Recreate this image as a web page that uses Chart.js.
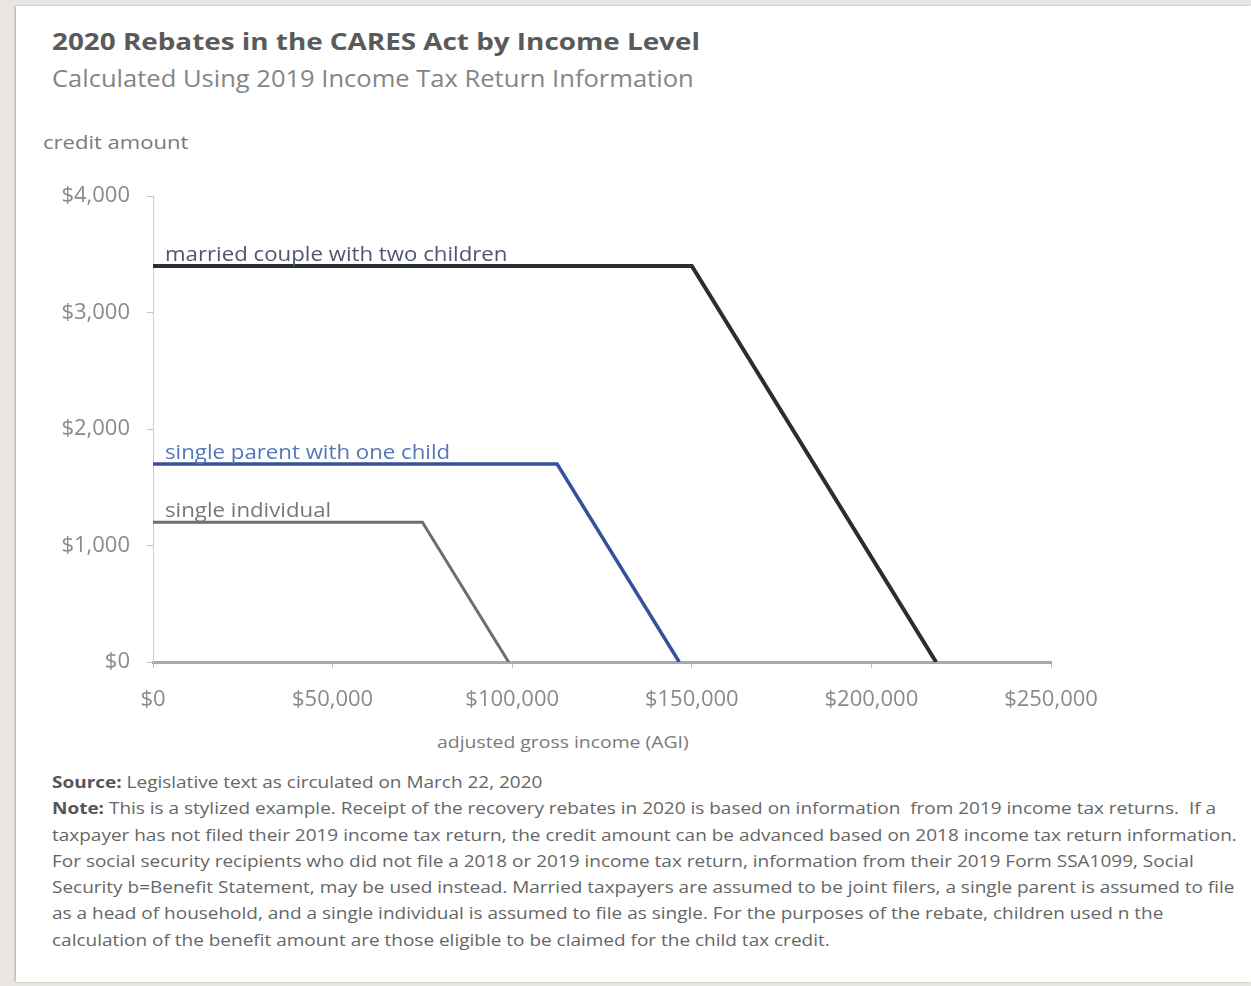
<!DOCTYPE html>
<html>
<head>
<meta charset="utf-8">
<script src="https://cdn.jsdelivr.net/npm/chart.js@4.4.1/dist/chart.umd.min.js"></script>
<style>
  html,body{margin:0;padding:0;}
  body{width:1251px;height:986px;background:#e9e6e1;overflow:hidden;font-family:"Open Sans",Lato,sans-serif;}
  .panel{position:absolute;left:16px;top:6px;width:1235px;height:976px;background:#fff;box-shadow:-1px 0 2px rgba(0,0,0,.25);}
  .txt{position:absolute;white-space:nowrap;transform-origin:0 50%;}
  #title{left:52px;top:24px;font-size:24px;font-weight:700;color:#5a5a5a;transform:scaleX(1.16);}
  #subtitle{left:52px;top:62px;font-size:23px;color:#858585;transform:scaleX(1.11);}
  #ylab{left:43px;top:129px;font-size:19px;color:#7a7a7a;transform:scaleX(1.16);}
  #xlab{left:437px;top:730px;font-size:17px;color:#7a7a7a;transform:scaleX(1.14);}
  #chartWrap{position:absolute;left:0;top:166px;width:1120px;height:560px;}
  #notes{position:absolute;left:52px;top:769px;font-size:16.5px;line-height:26.3px;color:#666;transform:scaleX(1.15);transform-origin:0 0;}
  #notes div{white-space:nowrap;}
  #notes b{color:#555;}
</style>
</head>
<body>
<div class="panel"></div>
<div class="txt" id="title">2020 Rebates in the CARES Act by Income Level</div>
<div class="txt" id="subtitle">Calculated Using 2019 Income Tax Return Information</div>
<div class="txt" id="ylab">credit amount</div>
<div id="chartWrap"><canvas id="rebateChart" width="1120" height="560"></canvas></div>
<div class="txt" id="xlab">adjusted gross income (AGI)</div>
<div id="notes">
  <div><b>Source:</b> Legislative text as circulated on March 22, 2020</div>
  <div><b>Note:</b> This is a stylized example. Receipt of the recovery rebates in 2020 is based on information&nbsp; from 2019 income tax returns.&nbsp; If a</div>
  <div>taxpayer has not filed their 2019 income tax return, the credit amount can be advanced based on 2018 income tax return information.</div>
  <div>For social security recipients who did not file a 2018 or 2019 income tax return, information from their 2019 Form SSA1099, Social</div>
  <div>Security b=Benefit Statement, may be used instead. Married taxpayers are assumed to be joint filers, a single parent is assumed to file</div>
  <div>as a head of household, and a single individual is assumed to file as single. For the purposes of the rebate, children used n the</div>
  <div>calculation of the benefit amount are those eligible to be claimed for the child tax credit.</div>
</div>

<script>
// ===== Datos =====
const seriesNames = ['married couple with two children', 'single parent with one child', 'single individual'];

const incomeMarried = [0, 150000, 218000];
const creditMarried = [3400, 3400, 0];

const incomeParent = [0, 112500, 146500];
const creditParent = [1700, 1700, 0];

const incomeSingle = [0, 75000, 99000];
const creditSingle = [1200, 1200, 0];

const xTicks = [0, 50000, 100000, 150000, 200000, 250000];
const yTicks = [0, 1000, 2000, 3000, 4000];

// ===== Helpers =====
const toPoints = (xs, ys) => xs.map((x, i) => ({x, y: ys[i]}));
const money = v => '$' + Number(v).toLocaleString('en-US');

const FONT = '"Open Sans", Lato, sans-serif';

const datasets = [
  {label: seriesNames[0], data: toPoints(incomeMarried, creditMarried), borderColor:'#2a2d33', borderWidth:4, labelColor:'#4f5670'},
  {label: seriesNames[1], data: toPoints(incomeParent, creditParent), borderColor:'#34529a', borderWidth:3.5, labelColor:'#5577b8'},
  {label: seriesNames[2], data: toPoints(incomeSingle, creditSingle), borderColor:'#6e6e6e', borderWidth:3, labelColor:'#777777'}
].map(d => Object.assign(d, {pointRadius:0, fill:false, tension:0, borderJoinStyle:'miter'}));

// etiquetas encima de cada línea (texto algo estirado, como en la foto)
const seriesLabels = {
  id:'seriesLabels',
  afterDatasetsDraw(chart){
    const {ctx, scales:{x, y}} = chart;
    chart.data.datasets.forEach(d => {
      ctx.save();
      ctx.translate(x.getPixelForValue(0) + 12, y.getPixelForValue(d.data[0].y) - 1);
      ctx.scale(1.14, 1);
      ctx.font = '19.5px ' + FONT;
      ctx.textAlign = 'left';
      ctx.textBaseline = 'bottom';
      ctx.fillStyle = d.labelColor;
      ctx.fillText(d.label, 0, 0);
      ctx.restore();
    });
  }
};

new Chart(document.getElementById('rebateChart'), {
  type:'line',
  data:{datasets},
  options:{
    responsive:false,
    animation:false,
    layout:{padding:{top:11, right:69, left:0, bottom:0}},
    plugins:{legend:{display:false}, tooltip:{enabled:false}},
    scales:{
      x:{
        type:'linear', min:0, max:250000,
        afterBuildTicks: s => { s.ticks = xTicks.map(v => ({value:v})); },
        afterFit: s => { s.height = 64; },
        border:{color:'#a9a9a9', width:3},
        grid:{drawOnChartArea:false, drawTicks:true, tickLength:6, color:'#bdbdbd'},
        ticks:{color:'#8a8a8a', font:{family:FONT, size:22}, padding:19, maxRotation:0, callback: v => money(v)}
      },
      y:{
        min:0, max:4000,
        afterBuildTicks: s => { s.ticks = yTicks.map(v => ({value:v})); },
        afterFit: s => { s.width = 153; },
        border:{color:'#d0d0d0', width:1},
        grid:{drawOnChartArea:false, drawTicks:true, tickLength:6, color:'#c4c4c4'},
        ticks:{color:'#8a8a8a', font:{family:FONT, size:22}, padding:17, callback: v => money(v)}
      }
    }
  },
  plugins:[seriesLabels]
});
</script>
</body>
</html>
